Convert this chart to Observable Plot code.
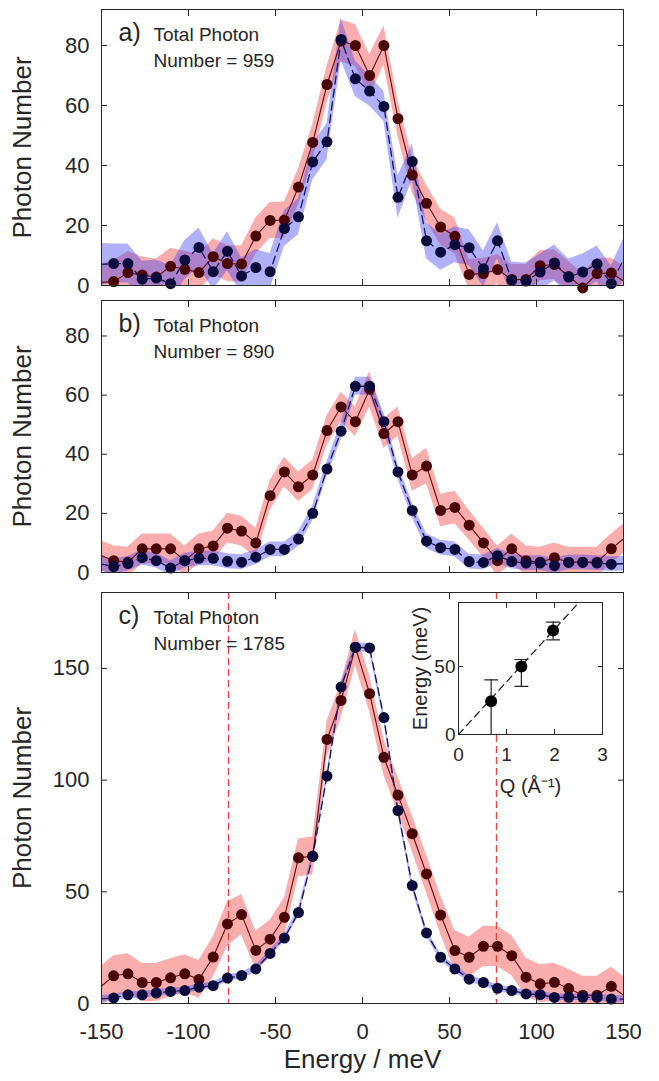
<!DOCTYPE html>
<html><head><meta charset="utf-8">
<script src="https://cdn.jsdelivr.net/npm/d3@7"></script>
<script src="https://cdn.jsdelivr.net/npm/@observablehq/plot@0.6"></script>
<style>
body{margin:0;background:#fff;}
#fig{position:relative;width:659px;height:1081px;overflow:hidden;background:#fff;}
#fig > div{position:absolute;}
</style></head><body><div id="fig"></div>
<script>
// ---------- data ----------
const energy = [-151.2, -143.0, -134.8, -126.6, -118.5, -110.3, -102.1, -94.0, -85.8, -77.6, -69.5, -61.3, -53.1, -44.9, -36.8, -28.6, -20.4, -12.3, -4.1,
                 4.1, 12.3, 20.4, 28.6, 36.8, 44.9, 53.1, 61.3, 69.5, 77.6, 85.8, 94.0, 102.1, 110.3, 118.5, 126.6, 134.8, 143.0, 151.2];

const aRed     = [1, 1.3, 4.3, 3.5, 2.8, 6.4, 5.4, 4.3, 9.6, 7.3, 7.2, 16.5, 21.7, 21.8, 32.8, 47.7, 67, 81.5, 80,
                  70, 80, 55.6, 36.8, 27.4, 19.5, 16.4, 3.7, 4, 5.3, 2, 2, 6.6, 7, 3, -0.8, 4, 4.2, 1];
const aRedErr  = [6, 7, 7, 6, 6, 6, 6, 6, 6, 6, 6, 6, 6, 6, 6, 6, 6, 7, 7,
                  7, 6.5, 6, 6, 6, 6, 6, 5, 5, 5, 5, 5, 5, 5, 5, 5, 5, 5, 5];
const aBlue    = [7, 7.3, 7.3, 2.1, 2.5, 0.6, 8.5, 12.7, 4.6, 11.4, 3.2, 6, 4.6, 19, 22.9, 41.2, 47.9, 82, 68.9,
                  64.8, 59.7, 29.4, 41.3, 14.9, 11.1, 13.6, 12.6, 5.6, 14.9, 1.8, 1.5, 4.5, 7.5, 2.8, 4.5, 7.2, 0.6, 10];
const aBlueErr = [7, 6.5, 6.5, 6, 6, 6, 6.5, 6.5, 6, 6.5, 6, 6, 6, 6, 6, 6, 6, 7, 6,
                  5, 5, 7, 6, 6, 6, 6, 6, 6, 6, 6, 6, 6, 6, 6, 6, 6, 6, 7];

const bRed     = [6, 4, 3.5, 8, 8, 8, 4, 8, 9, 15, 14, 10, 26, 34, 29, 33, 48, 56, 51,
                  62, 47, 51, 33, 36, 21, 22, 16, 10, 4, 8, 4, 3.5, 5, 3.5, 3.5, 3.5, 8, 12];
const bRedErr  = [5, 5, 5, 5, 5, 5, 5, 5, 5, 5, 5, 5, 5, 5, 5, 5, 5, 5, 5,
                  6, 5, 5, 5.5, 6, 5.5, 5.5, 5, 5, 5, 5, 5, 5, 5, 5, 5, 5, 5, 5];
const bBlue    = [3, 2, 3, 5, 4, 1.5, 4, 4.8, 4.8, 3.8, 3.5, 5.2, 7.8, 7.8, 11.3, 20, 35, 47.8, 63,
                  63, 51, 34, 21, 10.6, 8.4, 7.8, 3.7, 3.4, 5.7, 3.7, 3.2, 3.2, 2.3, 3.4, 3.4, 3.2, 2.8, 3];
const bBlueErr = [2.5, 2.5, 2.5, 2.5, 2.5, 2.5, 2.5, 2.5, 2.5, 2.5, 2.5, 2.5, 2.5, 2.5, 2.5, 2.5, 2.5, 3, 3,
                  3, 3, 2.5, 2.5, 2.5, 2.5, 2.5, 2.5, 2.5, 2.5, 2.5, 2.5, 2.5, 2.5, 2.5, 2.5, 2.5, 2.5, 2.5];

const cRed     = [7, 12.4, 13.3, 9.4, 9.4, 11.5, 13.3, 10.8, 20.8, 35.6, 39.8, 23.8, 28.8, 38.6, 65.2, 66, 118.2, 135.7, 159.4,
                  138.7, 110.2, 93.3, 76, 58, 39.6, 23.7, 20.7, 25.6, 25.6, 21.4, 11.8, 8.8, 9.5, 6.7, 3.7, 3.7, 7.7, 3];
const cRedErr  = [9, 9, 9, 8.5, 8.5, 8.5, 8.5, 8.5, 9, 10, 9, 8.5, 8.5, 8.5, 8.5, 8.5, 8, 8, 8,
                  8, 8, 8, 8, 8.5, 8.5, 9, 9, 9, 9, 9, 8.5, 8.5, 8.5, 8.5, 8.5, 8.5, 8.5, 8.5];
const cBlue    = [2, 2.5, 3.9, 3.9, 4.7, 5.4, 5.8, 7.3, 8, 11.4, 12.5, 15.5, 22.4, 29.3, 40.7, 65.9, 101.8, 141.7, 159.5,
                  159.2, 128, 86.4, 52.8, 31.6, 20.7, 15.5, 10.9, 9.4, 6.8, 5.8, 4.3, 4, 2.7, 2.8, 2.8, 2.7, 2, 2];
const cBlueErr = [1.5, 1.5, 1.5, 1.5, 1.5, 1.5, 1.5, 1.5, 1.5, 1.5, 1.5, 1.5, 1.5, 1.5, 2, 2, 2, 2, 2,
                  2, 2, 2, 2, 1.5, 1.5, 1.5, 1.5, 1.5, 1.5, 1.5, 1.5, 1.5, 1.5, 1.5, 1.5, 1.5, 1.5, 1.5];

const xTicks = [-150, -100, -50, 0, 50, 100, 150];
const yTicksAB = [0, 20, 40, 60, 80];
const yTicksC = [0, 50, 100, 150];
const phononLines = [-77, 77];

// inset: dispersion
const insetQ  = [0.68, 1.31, 1.97];
const insetE  = [24.5, 50, 76.5];
const insetLo = [0, 35.3, 69.6];
const insetHi = [40.2, 55.1, 82.6];
const fitQ = [0, 3];
const fitE = [0, 116];
const insetXTicks = [0, 1, 2, 3];
const insetYTicks = [0, 50];

// ---------- styles ----------
const FONT = '"Liberation Sans", Arial, Helvetica, sans-serif';
const AXIS = "#262626";
const RED_BAND = "#f03c3c", BLUE_BAND = "#4646f0";
const RED_LINE = "#6a0808", BLUE_LINE = "#14145a";
const RED_DOT = "#4a0606", BLUE_DOT = "#0c0c3c";

function rowsOf(red, redErr, blue, blueErr) {
  return energy.map((e, i) => ({e, r: red[i], rLo: red[i] - redErr[i], rHi: red[i] + redErr[i],
                                b: blue[i], bLo: blue[i] - blueErr[i], bHi: blue[i] + blueErr[i]}));
}

function mainPanel({rows, yMax, yTicks, letter, total, height, mt, mb, labels, extra = [], after = []}) {
  const shown = rows.filter(d => Math.abs(d.e) <= 150);
  return Plot.plot({
    width: 659, height, marginLeft: 101, marginRight: 36, marginTop: mt, marginBottom: mb,
    style: {fontFamily: FONT, fontSize: "22px", color: AXIS, background: "transparent", overflow: "visible"},
    x: {domain: [-150, 150]},
    y: {domain: [0, yMax]},
    marks: [
      Plot.area(rows, {x1: "e", y1: "rLo", y2: "rHi", fill: RED_BAND, fillOpacity: 0.42, clip: true}),
      Plot.area(rows, {x1: "e", y1: "bLo", y2: "bHi", fill: BLUE_BAND, fillOpacity: 0.42, clip: true}),
      ...extra,
      Plot.line(rows, {x: "e", y: "r", stroke: RED_LINE, strokeWidth: 1.1, clip: true}),
      Plot.line(rows, {x: "e", y: "b", stroke: BLUE_LINE, strokeWidth: 1.3, strokeDasharray: "8,5", clip: true}),
      Plot.dot(shown, {x: "e", y: "r", r: 5.5, fill: RED_DOT}),
      Plot.dot(shown, {x: "e", y: "b", r: 5.5, fill: BLUE_DOT}),
      Plot.frame({stroke: AXIS, strokeWidth: 1}),
      Plot.axisX({anchor: "bottom", ticks: xTicks, tickSize: -6, tickPadding: 26, tickFormat: d => String(d),
                  fill: labels ? AXIS : "none", stroke: AXIS, label: null}),
      Plot.axisX({anchor: "top", ticks: xTicks, tickSize: -6, fill: "none", stroke: AXIS, label: null}),
      Plot.axisY({anchor: "left", ticks: yTicks, tickSize: -6, tickPadding: 18, tickFormat: d => String(d),
                  fill: AXIS, stroke: AXIS, label: null}),
      Plot.axisY({anchor: "right", ticks: yTicks, tickSize: -6, fill: "none", stroke: AXIS, label: null}),
      Plot.text(["Photon Number"], {text: d => d, frameAnchor: "left", dx: -79, rotate: -90, textAnchor: "middle", fontSize: 26, fill: AXIS}),
      Plot.text([letter], {text: d => d, frameAnchor: "top-left", dx: 17, dy: 31, lineAnchor: "bottom", textAnchor: "start", fontSize: 25, fill: AXIS}),
      Plot.text(["Total Photon"], {text: d => d, frameAnchor: "top-left", dx: 52, dy: 31, lineAnchor: "bottom", textAnchor: "start", fontSize: 19, fill: AXIS}),
      Plot.text([`Number = ${total}`], {text: d => d, frameAnchor: "top-left", dx: 52, dy: 57.5, lineAnchor: "bottom", textAnchor: "start", fontSize: 19, fill: AXIS}),
      ...after
    ]
  });
}

function place(node, left, top) {
  const wrap = document.createElement("div");
  wrap.style.left = left + "px";
  wrap.style.top = top + "px";
  wrap.appendChild(node);
  document.getElementById("fig").appendChild(wrap);
}

const panelA = mainPanel({rows: rowsOf(aRed, aRedErr, aBlue, aBlueErr), yMax: 92, yTicks: yTicksAB,
  letter: "a)", total: 959, height: 295, mt: 9, mb: 10, labels: false});
const panelB = mainPanel({rows: rowsOf(bRed, bRedErr, bBlue, bBlueErr), yMax: 92, yTicks: yTicksAB,
  letter: "b)", total: 890, height: 290, mt: 5, mb: 13, labels: false});
const panelC = mainPanel({rows: rowsOf(cRed, cRedErr, cBlue, cBlueErr), yMax: 184, yTicks: yTicksC,
  letter: "c)", total: 1785, height: 496, mt: 7, mb: 78, labels: true,
  extra: [Plot.ruleX(phononLines, {stroke: "#e8413c", strokeDasharray: "7,4", strokeWidth: 1.3})],
  after: [Plot.text(["Energy / meV"], {text: d => d, frameAnchor: "bottom", dy: 64, fontSize: 26, fill: AXIS})]});

place(panelA, 0, 0);
place(panelB, 0, 295);
place(panelC, 0, 585);

// inset
const insetRows = insetQ.map((q, i) => ({q, e: insetE[i], lo: insetLo[i], hi: insetHi[i]}));
const fitRows = fitQ.map((q, i) => ({q, e: fitE[i]}));
const capShape = {draw(ctx, l) { ctx.moveTo(0, 0); ctx.lineTo(0, -l); }};
const inset = Plot.plot({
  width: 225, height: 205, marginLeft: 63, marginRight: 18, marginTop: 10, marginBottom: 63,
  style: {fontFamily: FONT, fontSize: "19px", color: AXIS, background: "transparent", overflow: "visible"},
  x: {domain: [0, 3]},
  y: {domain: [0, 97]},
  marks: [
    Plot.frame({fill: "white", stroke: null}),
    Plot.line(fitRows, {x: "q", y: "e", stroke: "#111", strokeDasharray: "7,5", strokeWidth: 1.2, clip: true}),
    Plot.ruleX(insetRows, {x: "q", y1: "lo", y2: "hi", stroke: "#222", strokeWidth: 1.2}),
    Plot.vector(insetRows, {x: "q", y: "lo", rotate: 90, length: 13, anchor: "middle", shape: capShape, stroke: "#222", strokeWidth: 1.2}),
    Plot.vector(insetRows, {x: "q", y: "hi", rotate: 90, length: 13, anchor: "middle", shape: capShape, stroke: "#222", strokeWidth: 1.2}),
    Plot.dot(insetRows, {x: "q", y: "e", r: 6, fill: "#000"}),
    Plot.frame({stroke: AXIS, strokeWidth: 1}),
    Plot.axisX({anchor: "bottom", ticks: insetXTicks, tickSize: -5, tickPadding: 18, tickFormat: d => String(d), fill: AXIS, stroke: AXIS, label: null}),
    Plot.axisX({anchor: "top", ticks: insetXTicks, tickSize: -5, fill: "none", stroke: AXIS, label: null}),
    Plot.axisY({anchor: "left", ticks: insetYTicks, tickSize: -5, tickPadding: 8, tickFormat: d => String(d), fill: AXIS, stroke: AXIS, label: null}),
    Plot.axisY({anchor: "right", ticks: insetYTicks, tickSize: -5, fill: "none", stroke: AXIS, label: null}),
    Plot.text(["Energy (meV)"], {text: d => d, frameAnchor: "left", dx: -38, rotate: -90, textAnchor: "middle", fontSize: 20, fill: AXIS}),
    Plot.text(["Q (Å⁻¹)"], {text: d => d, frameAnchor: "bottom", dy: 44, lineAnchor: "top", textAnchor: "middle", fontSize: 20, fill: AXIS})
  ]
});
place(inset, 395, 592);
</script>
</body></html>
